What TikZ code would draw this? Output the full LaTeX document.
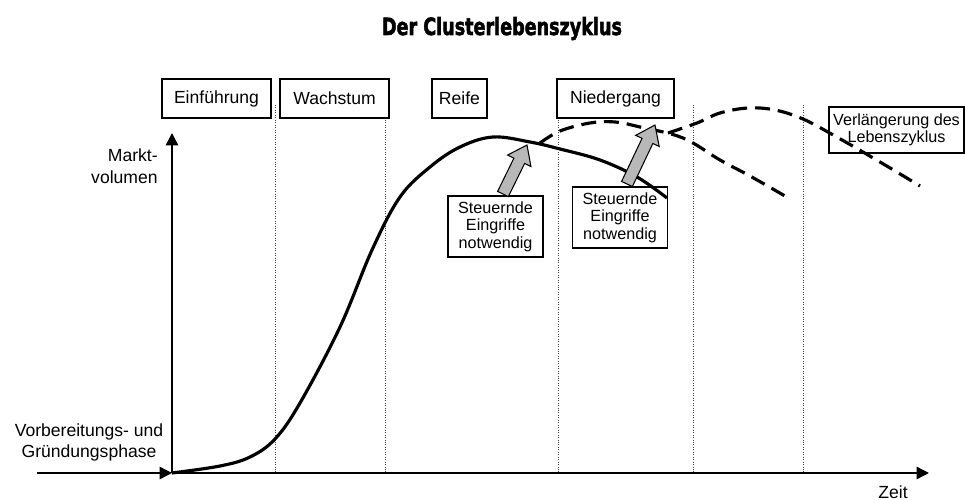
\documentclass[tikz,border=0pt]{standalone}
\usepackage{graphicx}
\usepackage{fontspec}
\setmainfont{Liberation Sans}
\newfontfamily\titlefont{DejaVu Sans}[BoldFeatures={FakeBold=2.5}]
\usetikzlibrary{calc, arrows.meta}

\definecolor{arrowgray}{gray}{0.72}

\tikzset{
  phase/.style={draw, fill=white, line width=0.7pt, minimum height=0.78cm, inner sep=0pt,
    font=\fontsize{10}{12}\selectfont},
  note/.style={draw, fill=white, line width=0.7pt, minimum width=1.9cm, minimum height=1.22cm,
    inner sep=0pt, align=center, font=\fontsize{9.2}{10}\selectfont},
  label/.style={align=center, inner sep=0pt, font=\fontsize{10}{12}\selectfont},
  axis/.style={line width=0.8pt, -{Triangle[length=7pt,width=7pt]}},
  divider/.style={line width=0.4pt, densely dotted, black!75},
  life/.style={line width=1.8pt},
  extension/.style={line width=1.8pt, dash pattern=on 8.5pt off 4.5pt},
  lever/.style={draw, fill=arrowgray, line width=0.6pt},
}

% grey block arrow from #1 to #2
\newcommand{\leverarrow}[2]{%
  \draw[lever] let \p1=($(#2)-(#1)$), \n1={atan2(\y1,\x1)}, \n2={veclen(\x1,\y1)} in
    [shift={(#1)}, rotate=\n1]
    (0pt,-3.4pt) -- ({\n2*1pt-10pt},-3.4pt) -- ({\n2*1pt-10pt},-7.4pt) -- ({\n2*1pt},0pt)
    -- ({\n2*1pt-10pt},7.4pt) -- ({\n2*1pt-10pt},3.4pt) -- (0pt,3.4pt) -- cycle;
}

\begin{document}
\begin{tikzpicture}[x=0.02cm, y=-0.02cm]
  \useasboundingbox (0,0) rectangle (965,500);

  % title
  \node[anchor=base, inner sep=0pt] (title) at (502,35)
    {\resizebox{4.8cm}{0.36cm}{\titlefont\bfseries Der Clusterlebenszyklus}};

  % axes
  \coordinate (origin) at (172,473);
  \coordinate (ytop) at (172,133);
  \coordinate (xend) at (929,473);
  \coordinate (xstart) at (37,473);

  \foreach \x in {275,385,558,693,803}
    \draw[divider] (\x,105) -- (\x,473);

  \draw[axis] (origin) -- (ytop);
  \draw[axis] (origin) -- (xend);
  \draw[axis] (xstart) -- (origin);

  \node[label, anchor=east, align=right, font=\fontsize{10}{12.5}\selectfont] (volume) at (158,166)
    {Markt-\\volumen};
  \node[label] (founding) at (89,442) {Vorbereitungs- und\\Gründungsphase};
  \node[label] (time) at (893,492) {Zeit};

  % phases
  \node[phase, minimum width=2.18cm] (intro) at (216.5,98.5) {Einführung};
  \node[phase, minimum width=2.18cm] (growth) at (334.5,98.5) {Wachstum};
  \node[phase, minimum width=1.1cm] (mature) at (459.5,98.5) {Reife};
  \node[phase, minimum width=2.34cm] (decline) at (615.5,98.5) {Niedergang};

  % notes
  \node[note] (steer1) at (495.5,226.5) {Steuernde\\Eingriffe\\notwendig};
  \node[note] (steer2) at (620,217.5) {Steuernde\\Eingriffe\\notwendig};
  \node[note, minimum width=2.7cm, minimum height=0.92cm] (prolong) at (896.5,130)
    {Verlängerung des\\Lebenszyklus};

  % life cycle
  \draw[life] plot[smooth, tension=0.6] coordinates {
    (172,473) (220,466) (250,457) (275,439) (300,403) (340,327) (372,250) (400,197)
    (430,167) (460,147) (493,137) (530,142) (560,149) (600,160) (637,177) (667,198)};
  \draw[extension] plot[smooth, tension=0.6] coordinates {
    (540,143) (560,131) (590,123) (615,122) (640,127) (683,138) (720,160) (750,176) (785,196)};
  \draw[extension] plot[smooth, tension=0.6] coordinates {
    (668,133) (697,123) (720,113) (748,108) (775,110) (803,119) (835,136) (880,162) (920,186)};

  % interventions
  \coordinate (base1) at (503,194);
  \coordinate (tip1) at (527,145);
  \coordinate (base2) at (627,184);
  \coordinate (tip2) at (655,125);
  \leverarrow{base1}{tip1}
  \leverarrow{base2}{tip2}

\end{tikzpicture}
\end{document}
